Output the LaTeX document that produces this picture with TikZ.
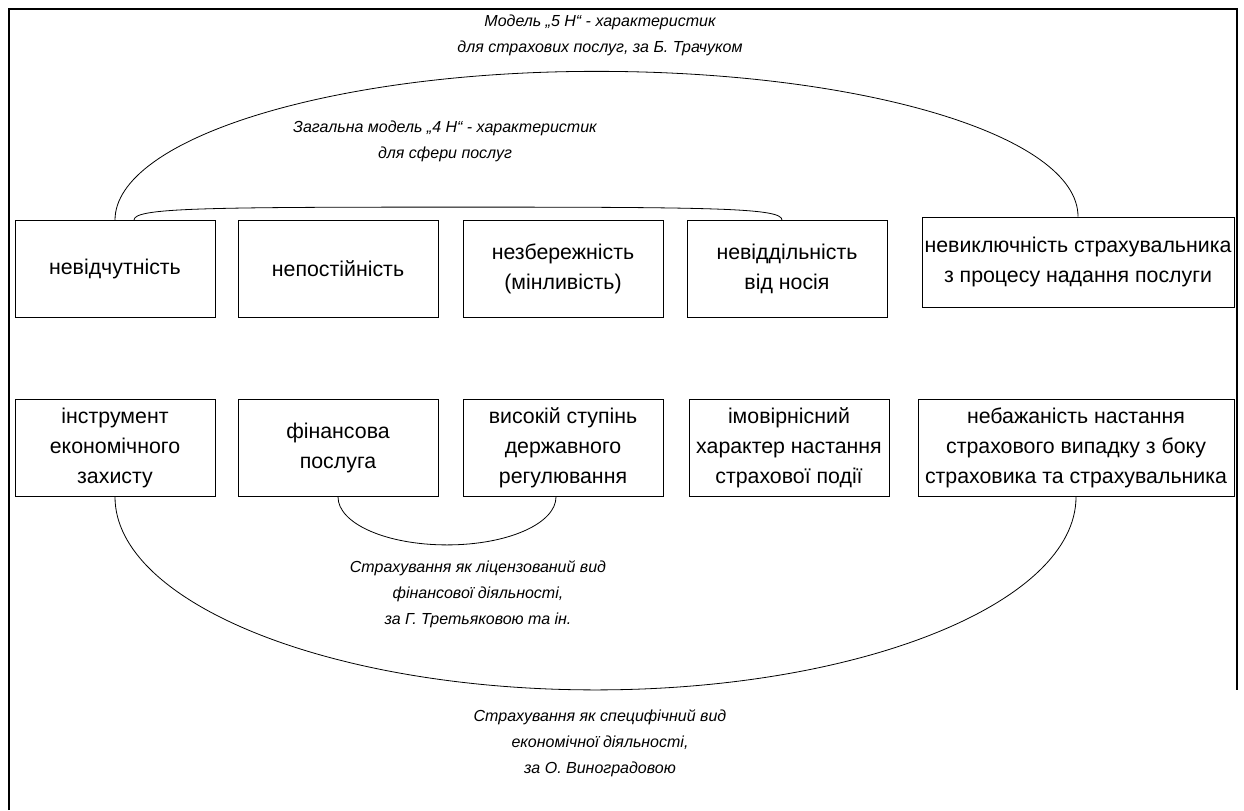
\documentclass[tikz,border=0pt]{standalone}
\usepackage{fontspec}
\setmainfont{Liberation Sans}
\usetikzlibrary{calc}

\begin{document}
\begin{tikzpicture}[x=0.75pt, y=-0.75pt,
        box/.style = {draw,
            line width=0.6pt,
            minimum width=150pt,
            minimum height=72.75pt,
            inner sep=1pt,
            align=center,
            font=\fontsize{16}{22.5}\selectfont
        },
        note/.style = {align=center,
            font=\fontsize{12}{19.5}\selectfont\itshape
        },
        link/.style = {line width=0.6pt}]

    \useasboundingbox (0,0) rectangle (1244,810);

    % Frame
    \draw[line width=2.2pt] (9,810) -- (9,9) -- (1237,9) -- (1237,690);

    % Upper row
    \node [box] (nevidch) at (115,269) {невідчутність};
    \node [box] (nepost) at (338,269) {непостійність};
    \node [box] (nezber) at (563,269) {незбережність\\(мінливість)};
    \node [box] (neviddil) at (787,269) {невіддільність\\від носія};
    \node [box,
        minimum width=234pt,
        minimum height=67.5pt] (nevykl) at (1078,262)
        {невиключність страхувальника\\з процесу надання послуги};

    % Lower row
    \node [box] (instr) at (115,448) {інструмент\\економічного\\захисту};
    \node [box] (finpos) at (338,448) {фінансова\\послуга};
    \node [box] (vysok) at (563,448) {високій ступінь\\державного\\регулювання};
    \node [box] (imovir) at (789,448) {імовірнісний\\характер настання\\страхової події};
    \node [box,
        minimum width=237pt] (nebazh) at (1076,448)
        {небажаність настання\\страхового випадку з боку\\страховика та страхувальника};

    % Model 5 N
    \coordinate (top5) at ($(nevidch.north)!0.5!(nevykl.north)+(0,-147)$);
    \draw[link] (nevidch.north) .. controls +(0,-81) and +(-266,0) .. (top5)
        .. controls +(266,0) and +(0,-81) .. (nevykl.north);
    \node [note] (txt5) at (600,35) {Модель „5 Н“ - характеристик\\для страхових послуг, за Б. Трачуком};

    % Model 4 N
    \coordinate (a4) at ($(nevidch.north)+(19,0)$);
    \coordinate (b4) at ($(neviddil.north)+(-5,0)$);
    \coordinate (top4) at ($(a4)!0.5!(b4)+(0,-13)$);
    \draw[link] (a4) .. controls +(0,-12) and +(-260,0) .. (top4)
        .. controls +(260,0) and +(0,-12) .. (b4);
    \node [note] (txt4) at (445,141) {Загальна модель „4 Н“ - характеристик\\для сфери послуг};

    % Licensed activity
    \coordinate (b3) at ($(vysok.south)+(-7,0)$);
    \coordinate (bot3) at ($(finpos.south)!0.5!(b3)+(0,48)$);
    \draw[link] (finpos.south) .. controls +(0,26.5) and +(-61,0) .. (bot3)
        .. controls +(61,0) and +(0,26.5) .. (b3);
    \node [note] (txtlic) at (478,594) {Страхування як ліцензований вид\\фінансової діяльності,\\за Г. Третьяковою та ін.};

    % Specific activity
    \coordinate (bot5) at ($(instr.south)!0.5!(nebazh.south)+(0,193)$);
    \draw[link] (instr.south) .. controls +(0,106) and +(-265,0) .. (bot5)
        .. controls +(265,0) and +(0,106) .. (nebazh.south);
    \node [note] (txtspec) at (600,743) {Страхування як специфічний вид\\економічної діяльності,\\за О. Виноградовою};

\end{tikzpicture}
\end{document}
